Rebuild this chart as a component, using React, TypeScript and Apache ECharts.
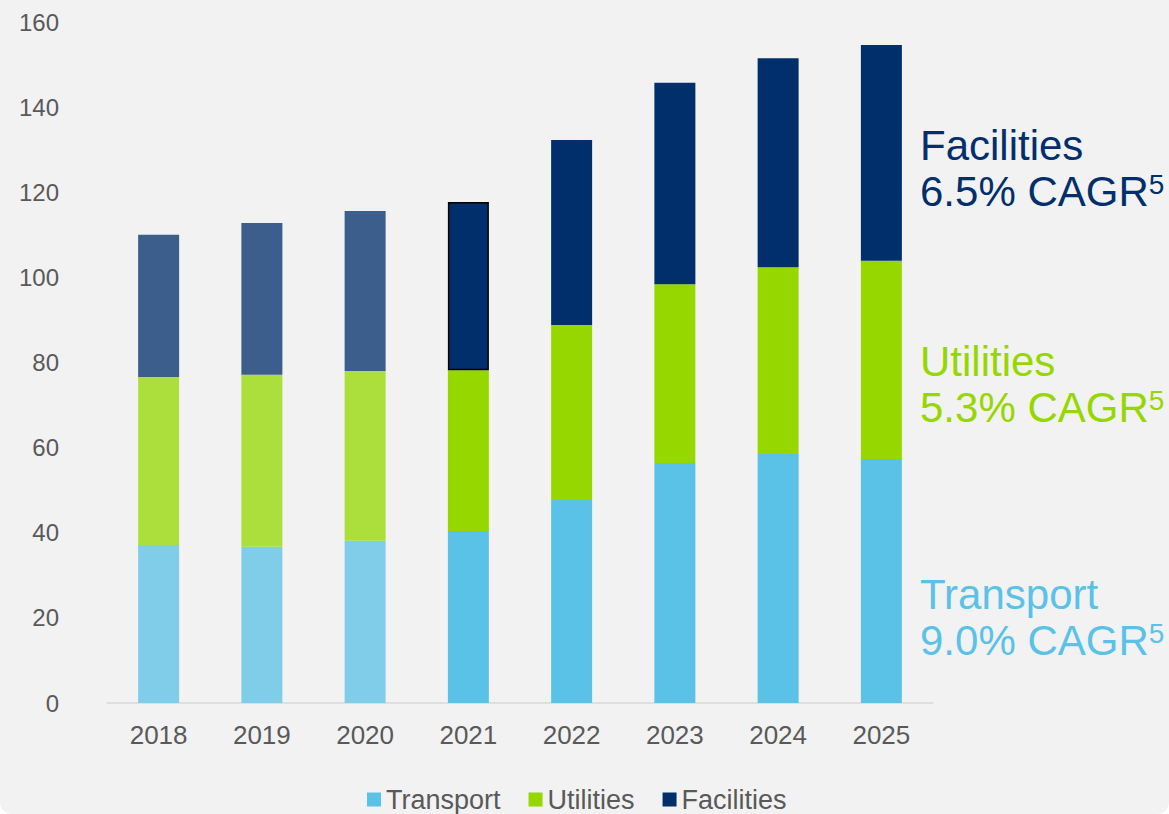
import React, { useEffect, useRef } from "react";
import * as echarts from "echarts";

const years = ["2018", "2019", "2020", "2021", "2022", "2023", "2024", "2025"];
const transport = [37.1, 36.7, 38.1, 40.4, 47.7, 56.4, 58.5, 57.3];
const utilities = [39.5, 40.4, 39.9, 37.8, 41.1, 42.0, 43.9, 46.6];
const facilities = [33.4, 35.7, 37.6, 39.5, 43.5, 47.3, 49.1, 50.7];
const historicalCount = 3;
const highlightedYear = "2021";

const seriesNames = ["Transport", "Utilities", "Facilities"];
const seriesColors = ["#5bc2e7", "#97d700", "#002f6c"];
const historicalColors = ["#80cdea", "#addf3c", "#3b5e8c"];

const cagrNames = ["Facilities", "Utilities", "Transport"];
const cagrValues = ["6.5%", "5.3%", "9.0%"];
const cagrColors = ["#002f6c", "#97d700", "#5bc2e7"];
const cagrBaselines = [160, 376, 609];

export default function App() {
  const ref = useRef<HTMLDivElement>(null);

  useEffect(() => {
    if (!ref.current) return;
    const chart = echarts.init(ref.current, undefined, { renderer: "svg" });
    const allData = [transport, utilities, facilities];
    const series = allData.map((vals, si) => ({
      name: seriesNames[si],
      type: "bar",
      stack: "total",
      barWidth: 41,
      itemStyle: { color: seriesColors[si] },
      data: vals.map((v, i) => {
        const item: any = { value: v };
        if (i < historicalCount) {
          item.itemStyle = { color: historicalColors[si] };
        }
        if (si === 2 && years[i] === highlightedYear) {
          item.itemStyle = { color: seriesColors[si], borderColor: "#000000", borderWidth: 1.5 };
        }
        return item;
      }),
    }));

    const graphics: any[] = [];
    cagrNames.forEach((n, i) => {
      const b = cagrBaselines[i];
      graphics.push({
        type: "text",
        left: 920,
        top: b - 14.6 - 21,
        style: {
          text: n,
          fill: cagrColors[i],
          font: "42px 'Liberation Sans', Arial, sans-serif",
        },
      });
      graphics.push({
        type: "text",
        left: 920,
        top: b + 46 - 14.6 - 21,
        style: {
          text: `{a|${cagrValues[i]} CAGR}{s|5}`,
          rich: {
            a: {
              fontSize: 42,
              lineHeight: 42,
              fill: cagrColors[i],
              fontFamily: "'Liberation Sans', Arial, sans-serif",
            },
            s: {
              fontSize: 28,
              lineHeight: 28,
              verticalAlign: "top",
              fill: cagrColors[i],
              fontFamily: "'Liberation Sans', Arial, sans-serif",
            },
          },
        },
      });
    });

    chart.setOption({
      animation: false,
      backgroundColor: "transparent",
      textStyle: { fontFamily: "'Liberation Sans', Arial, sans-serif" },
      grid: { left: 107, right: 236, top: 22, bottom: 111, containLabel: false },
      legend: {
        data: seriesNames.map((n, i) => ({ name: n, itemStyle: { color: seriesColors[i] } })),
        left: 367,
        top: 786,
        padding: 0,
        itemWidth: 14,
        itemHeight: 14,
        itemGap: 28,
        icon: "rect",
        textStyle: { fontSize: 27, color: "#595959" },
      },
      xAxis: {
        type: "category",
        data: years,
        axisLine: { lineStyle: { color: "#d9d9d9", width: 1.5 } },
        axisTick: { show: false },
        axisLabel: { fontSize: 26, color: "#595959", margin: 19 },
      },
      yAxis: {
        type: "value",
        min: 0,
        max: 160,
        interval: 20,
        axisLine: { show: false },
        axisTick: { show: false },
        splitLine: { show: false },
        axisLabel: { fontSize: 24, color: "#595959", margin: 48 },
      },
      series,
      graphic: graphics,
    });
    return () => chart.dispose();
  }, []);

  return (
    <div style={{ position: "fixed", left: 0, top: 0, width: 1169, height: 814, background: "#ffffff" }}>
      <div
        style={{
          position: "absolute",
          left: 0,
          top: 0,
          width: 1169,
          height: 814,
          background: "#f2f2f2",
          borderRadius: "0 0 12px 12px",
        }}
      />
      <div ref={ref} style={{ position: "absolute", left: 0, top: 0, width: 1169, height: 814 }} />
    </div>
  );
}
